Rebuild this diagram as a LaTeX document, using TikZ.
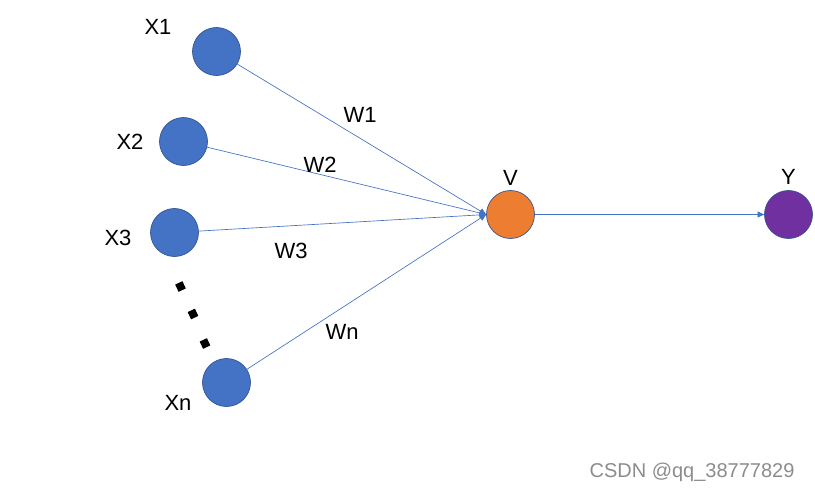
\documentclass[tikz,border=0pt]{standalone}
\usepackage{fontspec}
\setmainfont{Liberation Sans}
\usetikzlibrary{arrows.meta}
\definecolor{neuron-blue}{RGB}{68,114,196}
\definecolor{neuron-orange}{RGB}{237,125,49}
\definecolor{neuron-purple}{RGB}{112,48,160}
\definecolor{neuron-edge}{RGB}{47,82,143}
\tikzstyle{neuron}=[circle, draw=neuron-edge, line width=.5pt, inner sep=0pt, minimum size=36pt]
\tikzstyle{inputs}=[neuron, fill=neuron-blue]
\tikzstyle{weight}=[draw=neuron-blue, line width=.5pt, -{Triangle[length=5pt,width=4.5pt]}]
\tikzstyle{lbl}=[font=\fontsize{16.5}{17}\selectfont, inner sep=0pt]
\tikzstyle{dotbox}=[fill=black, inner sep=0pt, minimum size=6pt, rotate=25]

\begin{document}
\begin{tikzpicture}[x=.75pt, y=-.75pt]
	\useasboundingbox (0,0) rectangle (815,494);
	\node[inputs] (x1) at (216.5,51.5) {};
	\node[inputs] (x2) at (183.5,141.5) {};
	\node[inputs] (x3) at (174.5,232.5) {};
	\node[inputs] (xn) at (226.5,382.5) {};
	\node[neuron, fill=neuron-orange] (v) at (510.5,214.5) {};
	\node[neuron, fill=neuron-purple] (y) at (788.5,214.5) {};
	\draw[weight] (x1) -- (v.west);
	\draw[weight] (x2) -- (v.west);
	\draw[weight] (x3) -- (v.west);
	\draw[weight] (xn) -- (v.west);
	\draw[weight] (v) -- (y);
	\node[lbl] (lx1) at (158,27) {X1};
	\node[lbl] (lx2) at (130,142) {X2};
	\node[lbl] (lx3) at (118,238) {X3};
	\node[lbl] (lxn) at (178,403) {Xn};
	\node[lbl] (lw1) at (360,115) {W1};
	\node[lbl] (lw2) at (320,165) {W2};
	\node[lbl] (lw3) at (291,251) {W3};
	\node[lbl] (lwn) at (342,332) {Wn};
	\node[lbl] (lv) at (510.5,178) {V};
	\node[lbl] (ly) at (788.5,177) {Y};
	\foreach \p in {(180.5,286.5),(193,314),(205,343.5)}
		\node[dotbox] at \p {};
	\node[font=\fontsize{15}{16}\selectfont, text=black!45, inner sep=0pt] (mark) at (692,472) {CSDN @qq\_38777829};
\end{tikzpicture}
\end{document}
